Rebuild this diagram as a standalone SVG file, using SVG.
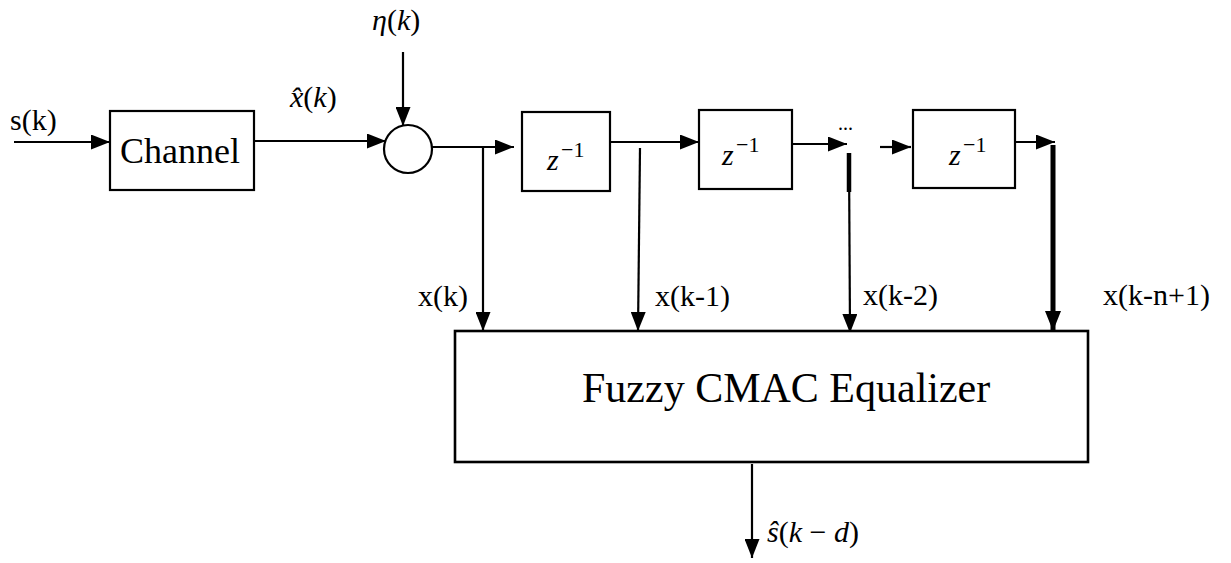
<svg xmlns="http://www.w3.org/2000/svg" width="1231" height="563" viewBox="0 0 1231 563" font-family="Liberation Serif, serif">
<style>
text{font-family:'Liberation Serif',serif;fill:#000}
.lbl{font-size:30px}
.it{font-style:italic}
.box{fill:#fff;stroke:#000;stroke-width:2.2}
.ln{stroke:#000;stroke-width:2.2;fill:none}
</style>
<defs>
<marker id="ah" markerUnits="userSpaceOnUse" markerWidth="19" markerHeight="15" refX="19" refY="7.5" orient="auto">
<path d="M0,0 L19,7.5 L0,15 z" fill="#000"/>
</marker>
</defs>
<rect width="1231" height="563" fill="#fff"/>
<g id="connectors">
<line class="ln" x1="14" y1="142" x2="110" y2="142" marker-end="url(#ah)"/>
<line class="ln" x1="254" y1="141" x2="386" y2="141" marker-end="url(#ah)"/>
<line class="ln" x1="403" y1="52" x2="403" y2="126" marker-end="url(#ah)"/>
<line class="ln" x1="432" y1="147" x2="514" y2="147" marker-end="url(#ah)"/>
<line class="ln" x1="483" y1="147" x2="483" y2="331" marker-end="url(#ah)"/>
<line class="ln" x1="610" y1="142" x2="699" y2="142" marker-end="url(#ah)"/>
<line class="ln" x1="640" y1="148" x2="638" y2="331" marker-end="url(#ah)"/>
<line class="ln" x1="792" y1="144" x2="847" y2="144" marker-end="url(#ah)"/>
<line class="ln" x1="849" y1="153" x2="850" y2="333" marker-end="url(#ah)"/>
<line stroke="#000" stroke-width="4.5" x1="849" y1="153" x2="849" y2="192"/>
<line class="ln" x1="880" y1="147" x2="911" y2="147" marker-end="url(#ah)"/>
<line class="ln" x1="1015" y1="142" x2="1055" y2="142" marker-end="url(#ah)"/>
<line stroke="#000" stroke-width="5" x1="1053" y1="145" x2="1053" y2="337"/>
<path d="M1045,311 L1053,331 L1061,311 z" fill="#000"/>
<line class="ln" x1="752" y1="464" x2="752" y2="558" marker-end="url(#ah)"/>
</g>
<g id="channel">
<rect class="box" x="110" y="111" width="144" height="79"/>
<text x="120" y="163" font-family="Liberation Serif, serif" font-size="36">Channel</text>
</g>
<g id="sum">
<circle class="box" cx="408" cy="149" r="24"/>
</g>
<g id="delay1">
<rect class="box" x="522" y="112" width="88" height="79"/>
<text x="547" y="170" class="it" font-size="30">z</text>
<text x="561" y="157" font-size="22">−1</text>
</g>
<g id="delay2">
<rect class="box" x="699" y="110" width="93" height="79"/>
<text x="722" y="165" class="it" font-size="30">z</text>
<text x="736" y="152" font-size="22">−1</text>
</g>
<g id="delay3">
<rect class="box" x="913" y="110" width="102" height="78"/>
<text x="949" y="165" class="it" font-size="30">z</text>
<text x="963" y="152" font-size="22">−1</text>
</g>
<g id="equalizer">
<rect x="455" y="331" width="633" height="131" fill="#fff" stroke="#000" stroke-width="2.6"/>
<text x="582" y="402" font-size="42">Fuzzy CMAC Equalizer</text>
</g>
<g id="labels">
<text x="10" y="130" class="lbl">s(k)</text>
<text x="372" y="30" class="lbl"><tspan class="it">η</tspan>(<tspan class="it">k</tspan>)</text>
<text x="290" y="107" class="lbl"><tspan class="it">x̂</tspan>(<tspan class="it">k</tspan>)</text>
<text x="838" y="130" font-size="20">...</text>
<text x="418" y="306" class="lbl">x(k)</text>
<text x="655" y="306" class="lbl">x(k-1)</text>
<text x="863" y="305" class="lbl">x(k-2)</text>
<text x="1103" y="305" class="lbl">x(k-n+1)</text>
<text x="767" y="542" class="lbl"><tspan class="it">ŝ</tspan>(<tspan class="it">k</tspan> − <tspan class="it">d</tspan>)</text>
</g>
</svg>
